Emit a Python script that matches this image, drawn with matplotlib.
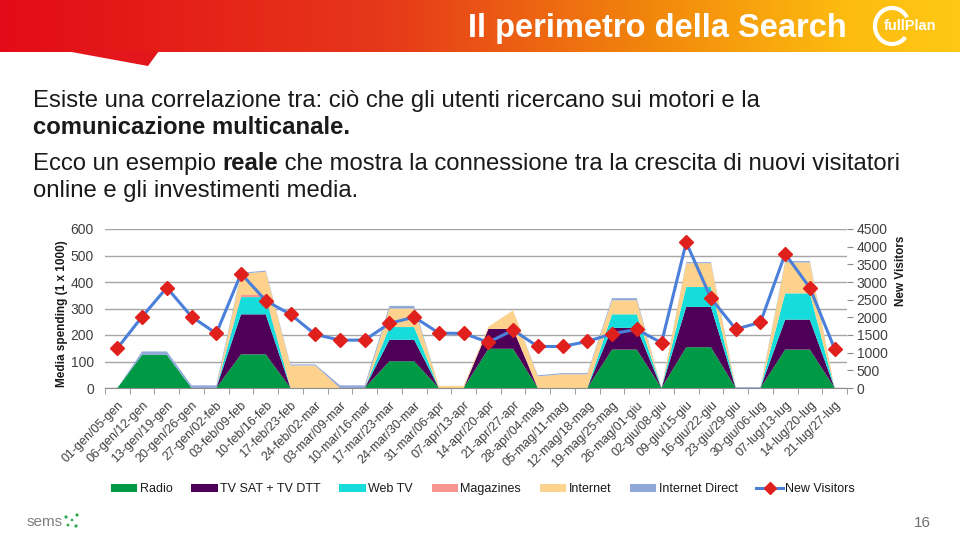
import numpy as np
import matplotlib.pyplot as plt
from matplotlib.colors import LinearSegmentedColormap
from matplotlib.lines import Line2D
from matplotlib.patches import Patch, Polygon, Arc, Circle

plt.rcParams['font.family'] = ['Liberation Sans', 'DejaVu Sans']

# ---- data ----
weeks = [
    "01-gen/05-gen", "06-gen/12-gen", "13-gen/19-gen", "20-gen/26-gen", "27-gen/02-feb",
    "03-feb/09-feb", "10-feb/16-feb", "17-feb/23-feb", "24-feb/02-mar", "03-mar/09-mar",
    "10-mar/16-mar", "17-mar/23-mar", "24-mar/30-mar", "31-mar/06-apr", "07-apr/13-apr",
    "14-apr/20-apr", "21-apr/27-apr", "28-apr/04-mag", "05-mag/11-mag", "12-mag/18-mag",
    "19-mag/25-mag", "26-mag/01-giu", "02-giu/08-giu", "09-giu/15-giu", "16-giu/22-giu",
    "23-giu/29-giu", "30-giu/06-lug", "07-lug/13-lug", "14-lug/20-lug", "21-lug/27-lug",
]
radio = [0, 125, 125, 0, 0, 127, 127, 0, 0, 0, 0, 101, 101, 0, 0,
         148, 148, 0, 0, 0, 145, 145, 0, 154, 154, 0, 0, 145, 145, 0]
tv_sat_dtt = [0, 0, 0, 0, 0, 151, 151, 0, 0, 0, 0, 81, 81, 0, 0,
              75, 75, 0, 0, 0, 82, 82, 0, 152, 152, 0, 0, 113, 113, 0]
web_tv = [0, 0, 0, 0, 0, 65, 65, 0, 0, 0, 0, 48, 48, 0, 0,
          0, 0, 0, 0, 0, 51, 51, 0, 75, 75, 0, 0, 99, 99, 0]
magazines = [0, 0, 0, 0, 0, 8, 8, 0, 0, 0, 0, 0, 0, 0, 0,
             0, 0, 0, 0, 0, 0, 0, 0, 0, 0, 0, 0, 0, 0, 0]
internet = [0, 0, 0, 0, 0, 80, 88, 85, 85, 0, 0, 70, 70, 8, 8,
            8, 70, 44, 52, 52, 53, 53, 0, 90, 90, 0, 0, 117, 117, 0]
internet_direct = [0, 13, 13, 10, 10, 4, 4, 4, 4, 10, 10, 10, 10, 0, 0,
                   0, 0, 4, 4, 4, 8, 8, 0, 4, 4, 3, 3, 5, 5, 0]
new_visitors = [1127, 2018, 2842, 2018, 1544, 3240, 2472, 2084, 1516, 1355,
                1355, 1828, 2008, 1554, 1544, 1293, 1639, 1175, 1175, 1317,
                1535, 1658, 1279, 4121, 2539, 1667, 1857, 3799, 2833, 1108]

series_names = ["Radio", "TV SAT + TV DTT", "Web TV", "Magazines", "Internet", "Internet Direct"]
series_colors = ["#009A46", "#4E0058", "#17DCDC", "#F79591", "#FCD28D", "#8FA8D8"]
line_color = "#4A7FDA"
marker_color = "#E0201C"
text_color = "#1A1A1A"
tick_color = "#404040"

fig = plt.figure(figsize=(9.6, 5.33), dpi=100)

# ---- slide background, pixel coordinates ----
bg = fig.add_axes([0, 0, 1, 1], zorder=0)
cmap = LinearSegmentedColormap.from_list(
    "hdr", [(0, "#E30B17"), (0.4, "#E6381A"), (0.68, "#F2870C"), (0.88, "#FDBB10"), (1, "#FFC814")])
bg.imshow(np.linspace(0, 1, 256).reshape(1, -1), cmap=cmap, extent=(0, 960, 52, 0), aspect="auto")
bg.add_patch(Polygon([(66, 51), (148, 66), (159, 51)], closed=True, color="#E3161B", lw=0))
bg.set_xlim(0, 960)
bg.set_ylim(533, 0)
bg.axis("off")

bg.text(847, 28, "Il perimetro della Search", ha="right", va="center",
        color="white", fontsize=23.5, fontweight="bold")
bg.add_patch(Arc((892, 26), 34, 36, theta1=40, theta2=330, color="white", lw=3))
bg.text(884, 26, "fullPlan", ha="left", va="center", color="white",
        fontsize=10.5, fontweight="bold")

fs = 17.2
body = dict(fontsize=fs, color=text_color, va="baseline")
bg.text(33, 107, "Esiste una correlazione tra: ciò che gli utenti ricercano sui motori e la", **body)
bg.text(33, 134, "comunicazione multicanale.", fontweight="bold", **body)
t1 = bg.text(33, 170, "Ecco un esempio ", **body)
t2 = bg.annotate("reale", xy=(1, 0), xycoords=t1, fontweight="bold",
                 fontsize=fs, color=text_color, va="bottom")
bg.annotate(" che mostra la connessione tra la crescita di nuovi visitatori",
            xy=(1, 0), xycoords=t2, fontsize=fs, color=text_color, va="bottom")
bg.text(33, 197, "online e gli investimenti media.", **body)

bg.text(62, 314, "Media spending (1 x 1000)", rotation=90, ha="center", va="center",
        fontsize=8.5, fontweight="bold", color=text_color)
bg.text(901, 271, "New Visitors", rotation=90, ha="center", va="center",
        fontsize=8.5, fontweight="bold", color=text_color)

bg.text(27, 522, "sems", ha="left", va="center", fontsize=11, color="#7F7F7F")
for dx, dy, r in [(66, 517, 1.6), (72, 520, 1.3), (77, 515, 1.6), (68, 525, 1.4), (76, 526, 1.6)]:
    bg.add_patch(Circle((dx, dy), r, color="#2FA84F", lw=0))
bg.text(931, 523, "16", ha="right", va="center", fontsize=11, color="#6F6F6F")

# ---- chart ----
x = np.arange(len(weeks))
ax = fig.add_axes([105 / 960, 145 / 533, 742 / 960, 159 / 533], zorder=2)
ax.set_facecolor("none")
ax.stackplot(x, radio, tv_sat_dtt, web_tv, magazines, internet, internet_direct,
             colors=series_colors, linewidth=0)
ax.set_xlim(-0.5, len(weeks) - 0.5)
ax.set_ylim(0, 600)
ax.set_yticks(range(0, 601, 100))
ax.yaxis.grid(True, color="#A6A6A6", lw=1)
ax.set_axisbelow(True)
ax.tick_params(axis="y", length=0, pad=8, labelsize=10, labelcolor=tick_color)
ax.set_xticks(x)
ax.set_xticklabels(weeks, rotation=45, ha="right", rotation_mode="anchor",
                   fontsize=9, color=tick_color)
ax.tick_params(axis="x", which="major", length=0, pad=8)
ax.set_xticks(np.arange(-0.5, len(weeks)), minor=True)
ax.tick_params(axis="x", which="minor", length=4, color="#8C8C8C")
for side in ["left", "right", "top"]:
    ax.spines[side].set_visible(False)
ax.spines["bottom"].set_color("#8C8C8C")

ax2 = ax.twinx()
ax2.plot(x, new_visitors, color=line_color, lw=2.2, marker="D", markersize=7,
         markerfacecolor=marker_color, markeredgecolor=marker_color)
ax2.set_ylim(0, 4500)
ax2.set_yticks(range(0, 4501, 500))
ax2.tick_params(axis="y", length=4, color="#8C8C8C", pad=3, labelsize=10, labelcolor=tick_color)
for side in ["left", "right", "top", "bottom"]:
    ax2.spines[side].set_visible(False)

handles = [Patch(facecolor=c, edgecolor="none") for c in series_colors]
handles.append(Line2D([], [], color=line_color, lw=2.2, marker="D", markersize=6,
                      markerfacecolor=marker_color, markeredgecolor=marker_color))
fig.legend(handles, series_names + ["New Visitors"], loc="center",
           bbox_to_anchor=(483 / 960, 1 - 489 / 533), ncol=7, frameon=False,
           fontsize=9, handlelength=2.1, handleheight=0.6, handletextpad=0.2,
           columnspacing=1.5, labelcolor=text_color)

fig.savefig("out.png", dpi=100)
